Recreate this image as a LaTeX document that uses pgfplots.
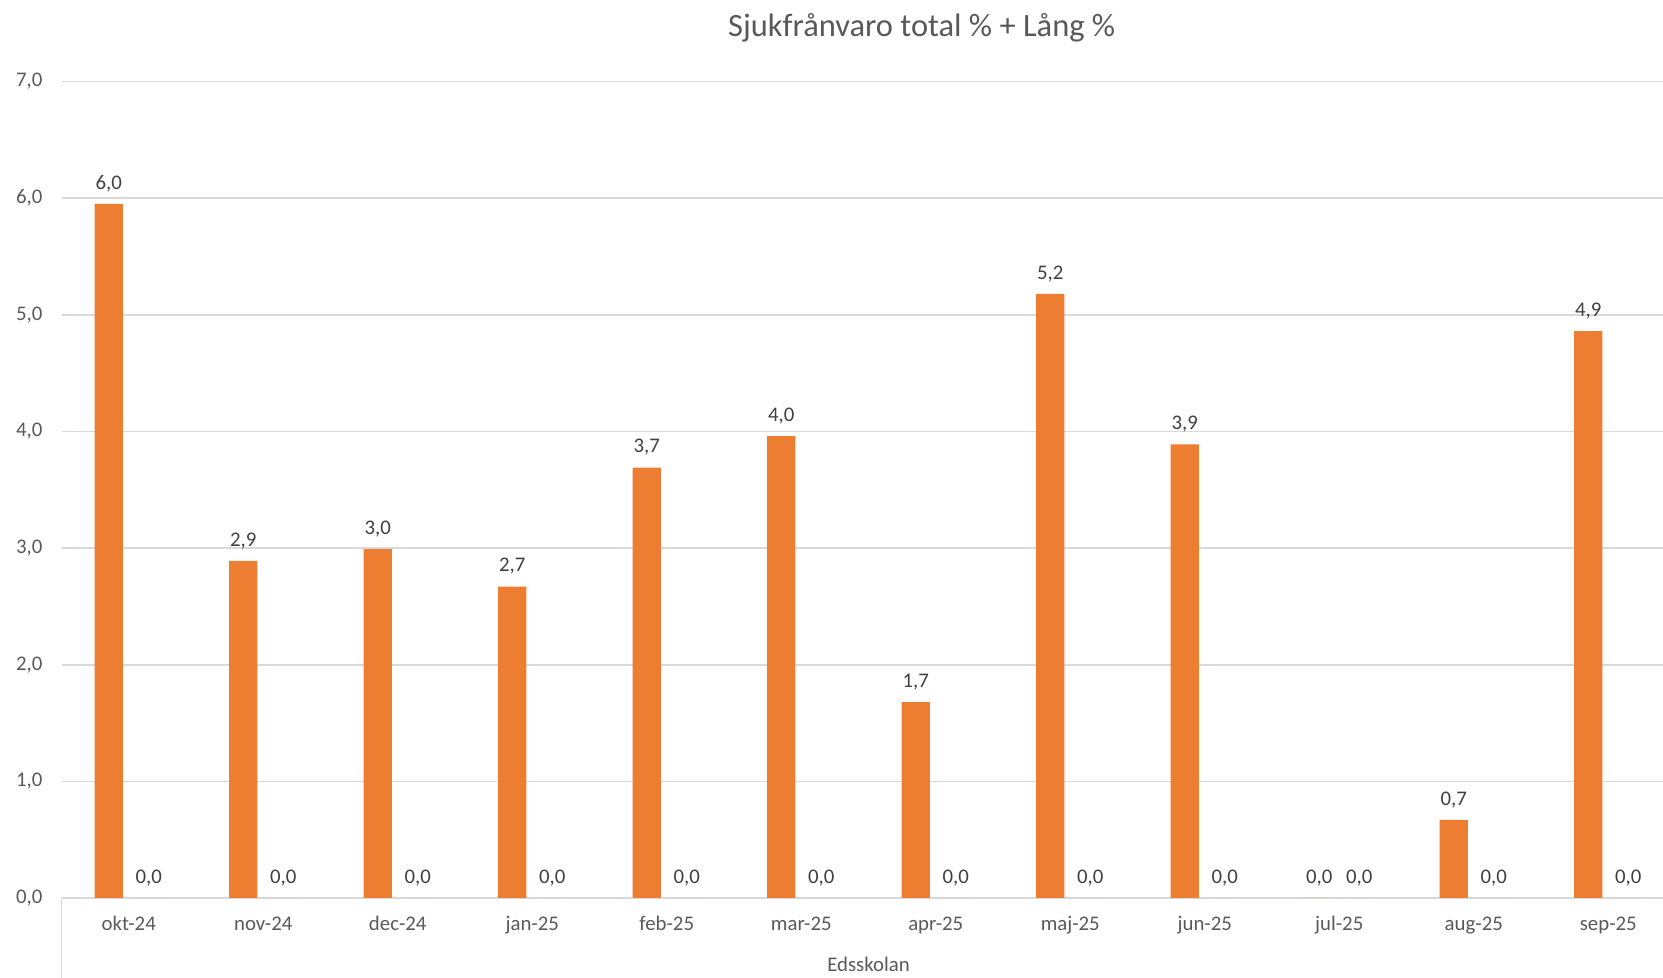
\documentclass[border=0pt]{standalone}
\usepackage{pgfplots}
\pgfplotsset{compat=1.18}
\usepackage{fontspec}
\setmainfont{Carlito}
\definecolor{barc}{HTML}{ED7D31}
\definecolor{barb}{HTML}{A5A5A5}
\definecolor{gridc}{HTML}{D9D9D9}
\definecolor{txt}{HTML}{595959}
\definecolor{lbl}{HTML}{404040}

\pgfplotstableread{
x y label
0 5.95 {6,0}
1 2.89 {2,9}
2 2.99 {3,0}
3 2.67 {2,7}
4 3.69 {3,7}
5 3.96 {4,0}
6 1.68 {1,7}
7 5.18 {5,2}
8 3.89 {3,9}
9 0.00 {0,0}
10 0.67 {0,7}
11 4.86 {4,9}
}\total
\pgfplotstableread{
x y label
0 0 {0,0}
1 0 {0,0}
2 0 {0,0}
3 0 {0,0}
4 0 {0,0}
5 0 {0,0}
6 0 {0,0}
7 0 {0,0}
8 0 {0,0}
9 0 {0,0}
10 0 {0,0}
11 0 {0,0}
}\lang

\begin{document}
\begin{tikzpicture}
\useasboundingbox (0,0) rectangle (831.5pt,489pt);
\begin{scope}
\clip (0,0) rectangle (831.5pt,489pt);
\begin{axis}[
  at={(30.75pt,40pt)}, anchor=south west,
  width=807pt, height=408.25pt, scale only axis,
  xmin=-0.5, xmax=11.5, ymin=0, ymax=7,
  clip=false,
  axis line style={draw=none},
  ymajorgrids, grid style={gridc, line width=0.8pt},
  major tick length=0pt,
  ytick={0,1,...,7},
  xtick={0,1,...,11},
  xticklabels={okt-24,nov-24,dec-24,jan-25,feb-25,mar-25,apr-25,maj-25,jun-25,jul-25,aug-25,sep-25},
  /pgf/number format/.cd, fixed, fixed zerofill, precision=1, use comma, assume math mode=true,
  /pgfplots/.cd,
  ticklabel style={font=\fontsize{10.4}{12}\selectfont, text=txt, inner sep=0pt},
  yticklabel style={anchor=east, xshift=-9.4pt},
  xticklabel style={anchor=base, yshift=-16.25pt},
  ybar=5.8pt, bar width=14.2pt,
  nodes near coords, point meta=explicit symbolic,
  every node near coord/.append style={anchor=base, inner sep=0pt, yshift=7.3pt,
     font=\fontsize{10.4}{12}\selectfont, text=lbl},
]
\addplot[fill=barc, draw=none] table[x=x, y=y, meta=label] {\total};
\addplot[fill=barb, draw=none] table[x=x, y=y, meta=label] {\lang};
\draw[gridc, line width=0.8pt] (axis cs:-0.5,0) -- ++(0pt,-60pt);
\node[anchor=base, font=\fontsize{10.4}{12}\selectfont, text=txt] at (rel axis cs:0.5,0) [yshift=-37pt] {Edsskolan};
\end{axis}
\node[anchor=base, font=\fontsize{16.25}{19}\selectfont, text=txt] at (460.85pt,470.5pt) {Sjukfrånvaro total \% + Lång \%};
\end{scope}
\end{tikzpicture}
\end{document}
